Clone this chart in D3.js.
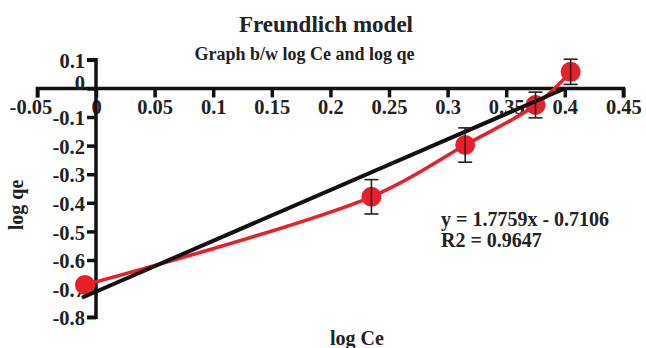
<!DOCTYPE html>
<html>
<head>
<meta charset="utf-8">
<script src="https://cdn.jsdelivr.net/npm/d3@7"></script>
<style>
  html, body { margin: 0; padding: 0; background: #ffffff; }
  svg { display: block; }
  svg text { font-family: "Liberation Serif", "Times New Roman", serif !important; font-weight: bold; }
</style>
</head>
<body>
<svg id="chart" width="646" height="348"></svg>
<script>
// Freundlich isotherm: log Ce vs log qe
const logCe = [-0.0094, 0.235, 0.315, 0.375, 0.405];
const logQe = [-0.687, -0.379, -0.198, -0.058, 0.058];
const errQe = [0.0, 0.060, 0.060, 0.045, 0.044];

// Linear fit y = slope*x + intercept
const slope = 1.7759;
const intercept = -0.7106;
const fitRange = [-0.012, 0.40];

const xTicks = [-0.05, 0, 0.05, 0.1, 0.15, 0.2, 0.25, 0.3, 0.35, 0.4, 0.45];
const yTicks = [0.1, 0, -0.1, -0.2, -0.3, -0.4, -0.5, -0.6, -0.7, -0.8];

const SERIF = '"Liberation Serif", "Times New Roman", serif';
const TICK_FONT = "20.5px";
const svg = d3.select("#chart");

const x = d3.scaleLinear().domain([0, 0.45]).range([96, 623.4]);
const y = d3.scaleLinear().domain([0, -0.8]).range([88.4, 317.2]);

const fmt = d => d === 0 ? "0" : String(d);

// Title and subtitle
svg.append("text").attr("x", 326).attr("y", 31.5).attr("text-anchor", "middle")
  .attr("font-size", 23).attr("fill", "#222").text("Freundlich model");
svg.append("text").attr("x", 304.5).attr("y", 60).attr("text-anchor", "middle")
  .attr("font-size", 18).attr("fill", "#222").text("Graph b/w log Ce and log qe");

// X axis through y = 0
const xAxis = d3.axisBottom(x).tickValues(xTicks).tickFormat(fmt).tickSize(9).tickPadding(2);
const gx = svg.append("g").attr("transform", `translate(0,${y(0)})`).call(xAxis)
  .attr("font-family", SERIF).attr("font-size", 20.5);
gx.select(".domain").attr("d", `M${x(-0.05)},${9}V0H${x(0.45)}V${9}`)
  .attr("stroke", "#111").attr("stroke-width", 3.5);
gx.selectAll(".tick line").attr("stroke", "#111").attr("stroke-width", 3.5);
gx.selectAll(".tick text").attr("fill", "#222")
  .style("font-family", SERIF).style("font-weight", "bold").style("font-size", TICK_FONT);
// leftmost label sits a little left of its tick, clear of the y labels
gx.selectAll(".tick").filter(d => d < 0).select("text").attr("dx", -7);

// Y axis through x = 0
const yAxis = d3.axisLeft(y).tickValues(yTicks).tickFormat(fmt).tickSize(9).tickPadding(2);
const gy = svg.append("g").attr("transform", `translate(${x(0)},0)`).call(yAxis)
  .attr("font-family", SERIF).attr("font-size", 20.5);
gy.select(".domain").attr("d", `M-9,${y(0.1)}H0V${y(-0.8)}H-9`)
  .attr("stroke", "#111").attr("stroke-width", 3.5);
gy.selectAll(".tick line").attr("stroke", "#111").attr("stroke-width", 3.5);
gy.selectAll(".tick text").attr("fill", "#222").attr("dy", "0.38em")
  .style("font-family", SERIF).style("font-weight", "bold").style("font-size", TICK_FONT);
gy.selectAll(".tick").filter(d => d === 0).select("text").attr("dy", "0.05em");

// Axis titles
svg.append("text").attr("x", 357).attr("y", 345).attr("text-anchor", "middle")
  .attr("font-size", 20).attr("fill", "#222").text("log Ce");
svg.append("text").attr("transform", "translate(23,205) rotate(-90)").attr("text-anchor", "middle")
  .attr("font-size", 20).attr("fill", "#222").text("log qe");

// Data series: smoothed red line
const pts = logCe.map((v, i) => [v, logQe[i]]);
svg.append("path").datum(pts)
  .attr("d", d3.line().x(d => x(d[0])).y(d => y(d[1])).curve(d3.curveCatmullRom.alpha(0.5)))
  .attr("fill", "none").attr("stroke", "#e8202a").attr("stroke-width", 3.5);

// Markers
svg.append("g").selectAll("circle").data(pts).join("circle")
  .attr("cx", d => x(d[0])).attr("cy", d => y(d[1])).attr("r", 10)
  .attr("fill", "#e8202a");

// Linear fit line
svg.append("line")
  .attr("x1", x(fitRange[0])).attr("y1", y(slope * fitRange[0] + intercept))
  .attr("x2", x(fitRange[1])).attr("y2", y(slope * fitRange[1] + intercept))
  .attr("stroke", "#111").attr("stroke-width", 4);

// Error bars
const eb = svg.append("g").attr("stroke", "#222").attr("stroke-width", 1.6);
pts.forEach((d, i) => {
  if (!errQe[i]) return;
  const cx = x(d[0]), t = y(d[1] + errQe[i]), b = y(d[1] - errQe[i]);
  eb.append("line").attr("x1", cx).attr("x2", cx).attr("y1", t).attr("y2", b);
  eb.append("line").attr("x1", cx - 7).attr("x2", cx + 7).attr("y1", t).attr("y2", t);
  eb.append("line").attr("x1", cx - 7).attr("x2", cx + 7).attr("y1", b).attr("y2", b);
});

// Regression equation
svg.append("text").attr("x", 441).attr("y", 226).attr("font-size", 20).attr("fill", "#222")
  .text(`y = ${slope}x - ${Math.abs(intercept)}`);
svg.append("text").attr("x", 441).attr("y", 247).attr("font-size", 20).attr("fill", "#222")
  .text("R2 = 0.9647");
</script>
</body>
</html>
